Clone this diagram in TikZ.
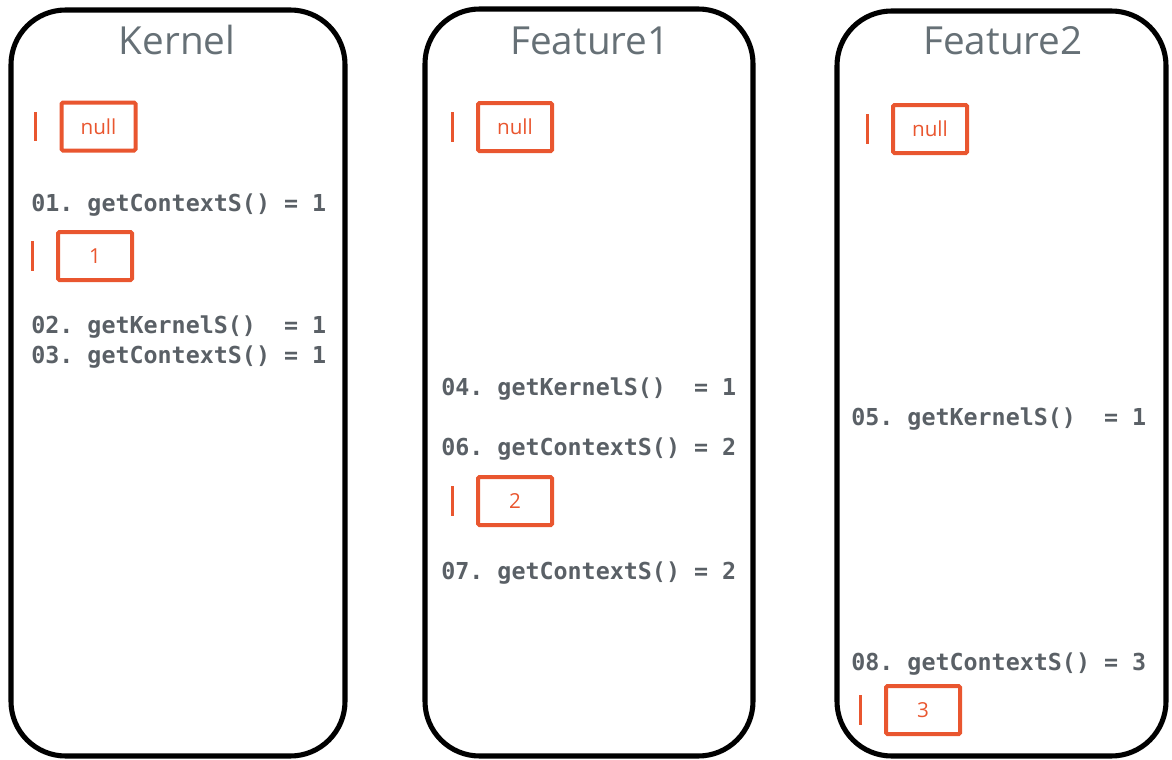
\documentclass[tikz,border=0pt]{standalone}
\usepackage{fontspec}
\setmainfont{Open Sans}
\setmonofont{DejaVu Sans Mono}
\usepackage{xcolor}
\usetikzlibrary{positioning}
\definecolor{ctxorange}{HTML}{E9562F}
\definecolor{codegray}{HTML}{5A6066}
\definecolor{titlegray}{HTML}{667076}

\begin{document}
\begin{tikzpicture}[x=0.75pt,y=-0.75pt]
  \tikzset{panel/.style = {draw=black,line width=3.8pt,rounded corners=41pt}}
  \tikzset{title/.style = {anchor=base,inner sep=0pt,text=titlegray,font=\fontsize{29}{32}\selectfont}}
  \tikzset{call/.style = {anchor=west,inner sep=0pt,text=codegray,font=\ttfamily\bfseries\fontsize{17.5}{20}\selectfont}}
  \tikzset{ctx/.style = {draw=ctxorange,line width=3pt,rounded corners=1pt,minimum width=55.5pt,minimum height=36pt,inner sep=0pt,text=ctxorange,font=\fontsize{15.5}{18}\selectfont}}
  \tikzset{cursor/.style = {fill=ctxorange,minimum width=2.4pt,minimum height=22pt,inner sep=0pt}}

  \useasboundingbox (0,0) rectangle (1172,760);

	% the three frames
	\draw[panel] (11,10) rectangle (345,756);
	\draw[panel] (425,9) rectangle (753,756);
	\draw[panel] (837,11) rectangle (1166,756);

	\node[title] (kernel) at (177,54) {Kernel};
	\node[title] (feat1) at (590,54) {Feature1};
	\node[title] (feat2) at (1003,54) {Feature2};

	% Kernel
	\node[call] (k01) at (31,205) {01.\ getContextS()\ =\ 1};
	\node[call] (k02) at (31,327) {02.\ getKernelS()\ \ =\ 1};
	\node[call] (k03) at (31,357) {03.\ getContextS()\ =\ 1};

	% Feature1
		\node[call] (f104) at (441,389) {04.\ getKernelS()\ \ =\ 1};
		\node[call] (f106) at (441,449) {06.\ getContextS()\ =\ 2};
		\node[call] (f107) at (441,573) {07.\ getContextS()\ =\ 2};

	% Feature2
			\node[call] (f205) at (851,419) {05.\ getKernelS()\ \ =\ 1};
			\node[call] (f208) at (851,664) {08.\ getContextS()\ =\ 3};

    \foreach \name/\x/\y/\val in {knull/98.5/126.5/null, kone/95/256/1, f1null/515/127/null, f1two/515/501/2, f2null/930/129/null, f2three/923/710/3}
    {
      \node[ctx] (\name) at (\x,\y) {\val};
      \node[cursor, left=16.5pt of \name] (\name bar) {};
    }

\end{tikzpicture}
\end{document}
